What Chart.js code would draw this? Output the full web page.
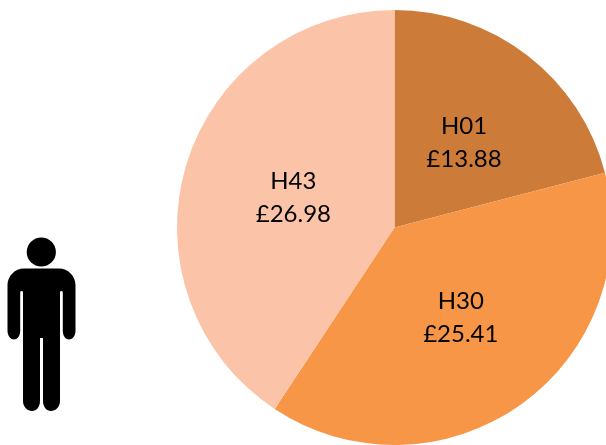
<!DOCTYPE html>
<html>
<head>
<meta charset="utf-8">
<script src="https://cdn.jsdelivr.net/npm/chart.js@4"></script>
<style>
html,body{margin:0;padding:0;width:606px;height:445px;overflow:hidden;background:#fff}
#wrap{position:absolute;left:0;top:0;width:789px;height:455px}
#person{position:absolute;left:0;top:225px}
</style>
</head>
<body>
<div id="wrap"><canvas id="c" width="789" height="455"></canvas></div>
<svg id="person" width="90" height="195" viewBox="0 225 90 195">
  <circle cx="41.3" cy="252" r="14.6" fill="#000"/>
  <path fill="#000" d="M24 268.5H59C68 268.5 75.5 276 75.5 285V331C75.5 336 72 339.5 69 339.5C66 339.5 62.8 336 62.8 331V292.5A1.3 1.3 0 0 0 60 292.5V401C60 407 55.5 411 51 411C46.5 411 43 407 43 401V338H40V401C40 407 36.5 411 32 411C27.5 411 23 407 23 401V292.5A1.3 1.3 0 0 0 20.2 292.5V331C20.2 336 17 339.5 14 339.5C11 339.5 7.5 336 7.5 331V285C7.5 276 15 268.5 24 268.5Z"/>
</svg>
<script>
const categories = ["H01", "H30", "H43"];
const prices = [13.88, 25.41, 26.98];
const colours = ["#CC7B38", "#F79646", "#FBC4A8"];

const labelPlugin = {
  id: "sliceLabels",
  afterDatasetsDraw(chart) {
    const ctx = chart.ctx;
    const arcs = chart.getDatasetMeta(0).data;
    ctx.save();
    ctx.font = '24px Lato, "Open Sans", sans-serif';
    ctx.fillStyle = "#000";
    ctx.textAlign = "center";
    ctx.textBaseline = "middle";
    arcs.forEach((arc, i) => {
      const p = arc.tooltipPosition();
      ctx.fillText(categories[i], p.x + 3, p.y - 15);
      ctx.fillText("£" + prices[i].toFixed(2), p.x + 3, p.y + 18);
    });
    ctx.restore();
  }
};

new Chart(document.getElementById("c"), {
  type: "pie",
  data: {
    labels: categories,
    datasets: [{ data: prices, backgroundColor: colours, borderWidth: 0 }]
  },
  options: {
    responsive: false,
    animation: false,
    layout: { padding: 10 },
    plugins: { legend: { display: false }, tooltip: { enabled: false } }
  },
  plugins: [labelPlugin]
});
</script>
</body>
</html>
